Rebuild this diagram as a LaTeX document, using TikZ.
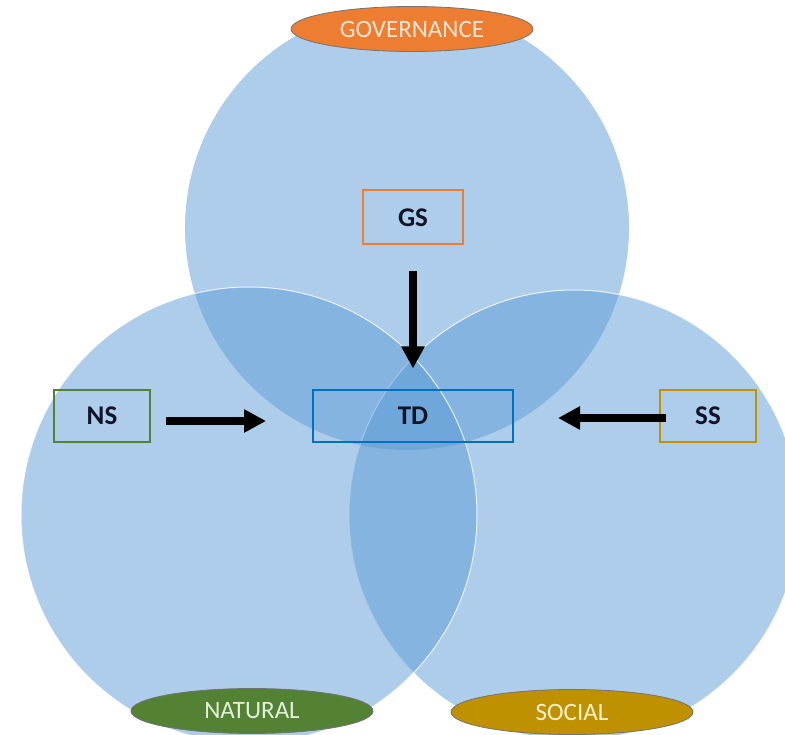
\documentclass[tikz,border=0pt]{standalone}
\usepackage{fontspec}
\setmainfont{Carlito}
\usetikzlibrary{positioning, arrows.meta, shapes.geometric}
\definecolor{circblue}{HTML}{5B9BD5}
\definecolor{govorange}{HTML}{ED7D31}
\definecolor{natgreen}{HTML}{548235}
\definecolor{socgold}{HTML}{BF9000}
\definecolor{tdblue}{HTML}{0070C0}
\definecolor{labelink}{HTML}{111427}
\definecolor{govtext}{HTML}{FBE5D6}
\definecolor{nattext}{HTML}{E2F0D9}
\definecolor{soctext}{HTML}{FFF2CC}

\begin{document}
\begin{tikzpicture}[
    x=1pt, y=-1pt,
    node distance=140pt,
    every node/.style={font=\fontsize{25}{28}\selectfont,align=center},
    arrow/.style={-{Triangle[length=22pt,width=22pt]}, line width=8pt},
    sphere/.style={fill=circblue, fill opacity=0.5},
    rim/.style={draw=white, draw opacity=0.8, line width=1pt},
    box/.style={draw, rectangle, line width=2pt, minimum width=96pt, minimum height=51pt, text=labelink, font=\fontsize{27}{30}\selectfont\bfseries},
    tag/.style={ellipse, draw=black!55, line width=0.8pt, minimum width=242pt, minimum height=45pt, inner sep=0pt}
]
    \useasboundingbox (0,0) rectangle (785,735);
    \clip (0,0) rectangle (785,735);

    % the three spheres
    \path [sphere] (407,228) circle (222pt);
    \path [sphere, rim] (574,515) circle (225pt);
    \path [sphere, rim] (249,515) circle (228pt);

    \node (gov) [tag, fill=govorange, text=govtext] at (412,29) {GOVERNANCE};
    \node (nat) [tag, fill=natgreen, text=nattext] at (252,711) {NATURAL};
    \node (soc) [tag, fill=socgold, text=soctext] at (572,712) {SOCIAL};

    \node (TD) [box, draw=tdblue, minimum width=200pt] at (413,416) {TD};
    \node (GS) [box, draw=govorange, minimum width=100pt, minimum height=54pt, above=144pt of TD] {GS};
    \node (NS) [box, draw=natgreen, left=161pt of TD] {NS};
    \node (SS) [box, draw=socgold, right=145pt of TD] {SS};

    \draw [arrow, shorten <=26pt, shorten >=21pt] (GS) -- (TD);
    \draw [arrow, shorten <=15pt, shorten >=46pt] ([yshift=-5pt]NS.east) -- ([yshift=-5pt]NS.east -| TD.west);
    \draw [arrow, shorten <=-7pt, shorten >=44pt] ([yshift=-2pt]SS.west) -- ([yshift=-2pt]SS.west -| TD.east);
\end{tikzpicture}
\end{document}
